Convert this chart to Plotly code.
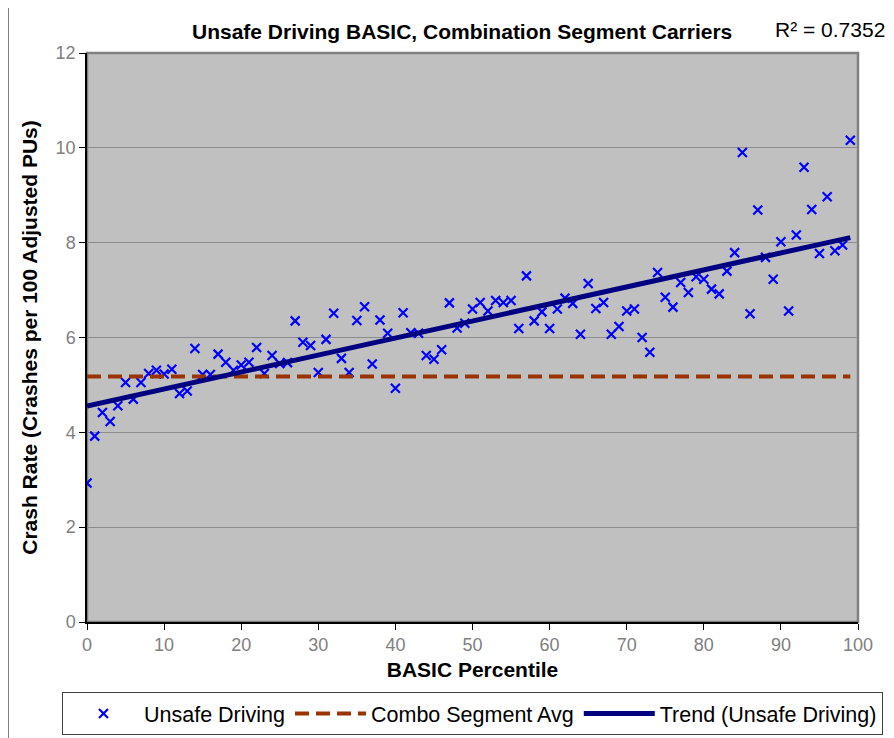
import numpy as np
import plotly.graph_objects as go

percentile = list(range(100))
crash_rate = [
    2.93, 3.92, 4.42, 4.23, 4.56, 5.05, 4.70, 5.05, 5.24, 5.31,
    5.23, 5.33, 4.82, 4.87, 5.77, 5.22, 5.22, 5.65, 5.48, 5.31,
    5.42, 5.48, 5.79, 5.24, 5.62, 5.45, 5.47, 6.35, 5.90, 5.83,
    5.26, 5.96, 6.51, 5.56, 5.26, 6.36, 6.65, 5.44, 6.37, 6.09,
    4.93, 6.52, 6.10, 6.09, 5.62, 5.54, 5.74, 6.73, 6.20, 6.30,
    6.60, 6.74, 6.56, 6.78, 6.74, 6.78, 6.19, 7.30, 6.35, 6.54,
    6.19, 6.60, 6.83, 6.72, 6.07, 7.14, 6.61, 6.74, 6.07, 6.23,
    6.56, 6.60, 6.00, 5.69, 7.37, 6.85, 6.64, 7.16, 6.95, 7.28,
    7.23, 7.02, 6.92, 7.40, 7.79, 9.90, 6.50, 8.69, 7.69, 7.23,
    8.02, 6.56, 8.16, 9.59, 8.70, 7.77, 8.97, 7.83, 7.95, 10.16,
]
combo_avg = 5.18
combo_x = [0, 99]
r2_label = "R² = 0.7352"

x_ticks = list(range(0, 101, 10))
y_ticks = list(range(0, 13, 2))

slope, intercept = np.polyfit(percentile, crash_rate, 1)
trend_x = [0, 99]
trend_y = [intercept + slope * v for v in trend_x]

FONT = "Liberation Sans, Arial, sans-serif"

fig = go.Figure()
fig.add_trace(go.Scatter(
    x=percentile, y=crash_rate, mode="markers", name="Unsafe Driving",
    marker=dict(symbol="x-thin", size=9, color="#0000FF",
                line=dict(color="#0000FF", width=2.2)),
))
fig.add_trace(go.Scatter(
    x=combo_x, y=[combo_avg] * len(combo_x), mode="lines", name="Combo Segment Avg",
    line=dict(color="#993300", width=4, dash="14px,7px"),
))
fig.add_trace(go.Scatter(
    x=trend_x, y=trend_y, mode="lines", name="Trend (Unsafe Driving)",
    line=dict(color="#000080", width=5),
))

# page offset of the figure (body margin)
OFF = 8
W, H = 894 - OFF, 738 - OFF
# plot area in page pixels
PL, PR, PT, PB = 87, 858, 53, 622
L, R, T, B = PL - OFF, (OFF + W) - PR, PT - OFF, (OFF + H) - PB
pw, ph = PR - PL, PB - PT

def px_x(p):
    return (p - PL) / pw

def px_y(p):
    return (PB - p) / ph

fig.update_layout(
    width=W, height=H,
    margin=dict(l=L, r=R, t=T, b=B, autoexpand=False),
    paper_bgcolor="white",
    plot_bgcolor="#C0C0C0",
    font=dict(family=FONT, color="black"),
    showlegend=True,
    legend=dict(
        orientation="h", x=px_x(62), y=px_y(692), xanchor="left", yanchor="top",
        bordercolor="#404040", borderwidth=1, bgcolor="white",
        font=dict(size=21.5, family=FONT, color="black"),
        itemwidth=71, tracegroupgap=0,
    ),
    xaxis=dict(
        range=[0, 100], tickvals=x_ticks, showgrid=False, zeroline=False,
        showline=True, linecolor="black", linewidth=1.5,
        ticks="outside", ticklen=6, tickcolor="black",
        tickfont=dict(size=18, color="#808080", family=FONT),
        title=dict(text="<b>BASIC Percentile</b>", font=dict(size=21, family=FONT, color="black"), standoff=8),
    ),
    yaxis=dict(
        range=[0, 12], tickvals=y_ticks, showgrid=True, gridcolor="#8C8C8C", gridwidth=1,
        zeroline=False, showline=True, linecolor="black", linewidth=1.5,
        ticks="outside", ticklen=6, tickcolor="black",
        tickfont=dict(size=18, color="#808080", family=FONT),
        title=dict(text="<b>Crash Rate (Crashes per 100 Adjusted PUs)</b>", font=dict(size=21, family=FONT, color="black"), standoff=12),
    ),
    shapes=[
        dict(type="rect", xref="paper", yref="paper", x0=0, x1=1, y0=0, y1=1,
             line=dict(color="#808080", width=2.5), layer="below"),
        dict(type="line", xref="paper", yref="paper", x0=px_x(8), x1=px_x(8), y0=px_y(7), y1=px_y(745),
             line=dict(color="#808080", width=2)),
        dict(type="line", xref="paper", yref="paper", x0=px_x(8), x1=px_x(900), y0=px_y(7), y1=px_y(7),
             line=dict(color="#808080", width=2)),
    ],
    annotations=[
        dict(text="<b>Unsafe Driving BASIC, Combination Segment Carriers</b>", xref="paper", yref="paper",
             x=px_x(462), y=px_y(32), xanchor="center", yanchor="middle", showarrow=False,
             font=dict(size=21, family=FONT, color="black")),
        dict(text=r2_label, xref="paper", yref="paper",
             x=px_x(887), y=px_y(30), xanchor="right", yanchor="middle", showarrow=False,
             font=dict(size=21, family=FONT, color="black")),
    ],
)

fig.write_html("out.html")
